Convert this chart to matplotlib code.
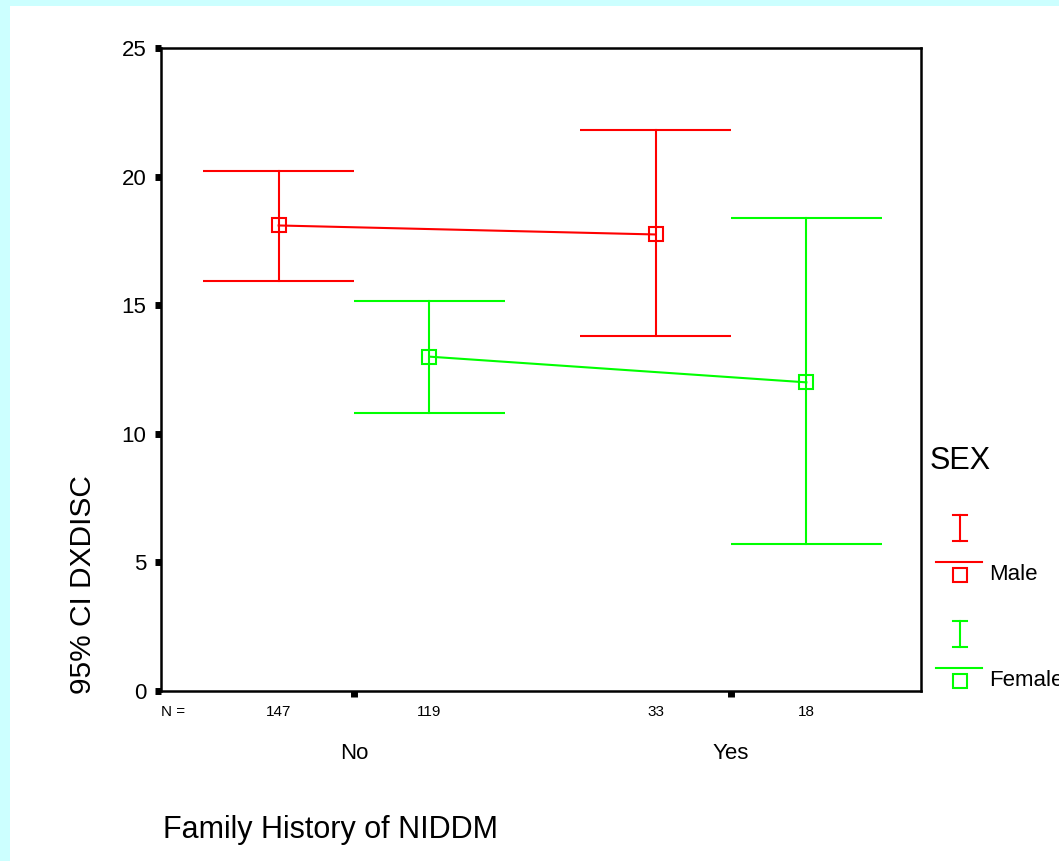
import matplotlib.pyplot as plt
from matplotlib.patches import Rectangle
import matplotlib.transforms as mtransforms

plt.rcParams['font.family'] = ['Liberation Sans', 'DejaVu Sans']

# data
categories = ['No', 'Yes']
sexes = ['Male', 'Female']
colors = ['#FF0000', '#00FF00']
means = {'Male': [18.1, 17.75], 'Female': [13.0, 12.0]}
upper = {'Male': [20.2, 21.8], 'Female': [15.15, 18.4]}
lower = {'Male': [15.95, 13.8], 'Female': [10.8, 5.7]}
counts = {'Male': [147, 33], 'Female': [119, 18]}
yticks = [0, 5, 10, 15, 20, 25]

offsets = [-0.2, 0.2]
half_cap = 0.2

fig = plt.figure(figsize=(10.59, 8.61), dpi=100)
fig.patch.set_facecolor('#CCFFFF')
fig.patches.append(Rectangle((10 / 1059, 0), 1, (861 - 6) / 861,
                             transform=fig.transFigure, facecolor='white',
                             edgecolor='none', zorder=-10))

ax = fig.add_axes([161 / 1059, 1 - 691 / 861, 760 / 1059, 643 / 861])
xcat = [1, 2]

for s, c, off in zip(sexes, colors, offsets):
    xs = [x + off for x in xcat]
    for x, lo, hi in zip(xs, lower[s], upper[s]):
        ax.plot([x, x], [lo, hi], color=c, lw=1.5)
        ax.hlines([lo, hi], x - half_cap, x + half_cap, color=c, lw=1.5)
    ax.plot(xs, means[s], color=c, lw=1.5, marker='s', ms=10,
            mfc='none', mec=c, mew=1.5)

ax.set_xlim(0.488, 2.504)
ax.set_ylim(0, 25)
ax.set_yticks(yticks)
ax.set_yticklabels([str(t) for t in yticks], fontsize=16)
ax.set_xticks(xcat)
ax.set_xticklabels(categories, fontsize=16)
ax.tick_params(axis='both', direction='out', length=4.5, width=5, color='black')
ax.tick_params(axis='x', pad=33)
ax.tick_params(axis='y', pad=6)
for sp in ax.spines.values():
    sp.set_linewidth(1.8)

# N = row
trans = mtransforms.blended_transform_factory(ax.transData, ax.transAxes)
ax.text(0.0, -0.033, 'N =', transform=ax.transAxes, fontsize=11,
        ha='left', va='center')
for s, off in zip(sexes, offsets):
    for x, n in zip(xcat, counts[s]):
        ax.text(x + off, -0.033, str(n), transform=trans, fontsize=11,
                ha='center', va='center')

fig.text(83 / 1059, 1 - 585 / 861, '95% CI DXDISC', rotation=90,
         fontsize=21.5, ha='center', va='center')
fig.text(163 / 1059, 1 - 830 / 861, 'Family History of NIDDM',
         fontsize=22, ha='left', va='center')

# legend
lg = fig.add_axes([0, 0, 1, 1])
lg.set_xlim(0, 1059)
lg.set_ylim(861, 0)
lg.axis('off')
lg.text(930, 461, 'SEX', fontsize=22, ha='left', va='center')
for s, c, y0 in zip(sexes, colors, [515, 621]):
    lg.plot([960, 960], [y0, y0 + 26], color=c, lw=1.5)
    lg.plot([953, 967], [y0, y0], color=c, lw=1.5)
    lg.plot([953, 967], [y0 + 26, y0 + 26], color=c, lw=1.5)
    lg.plot([936, 982], [y0 + 47, y0 + 47], color=c, lw=1.5)
    lg.plot([960], [y0 + 60], marker='s', ms=10, mfc='none', mec=c, mew=1.5)
    lg.text(989, y0 + 60, s, fontsize=16, ha='left', va='center')

plt.savefig('out.png', dpi=100, facecolor=fig.get_facecolor())
